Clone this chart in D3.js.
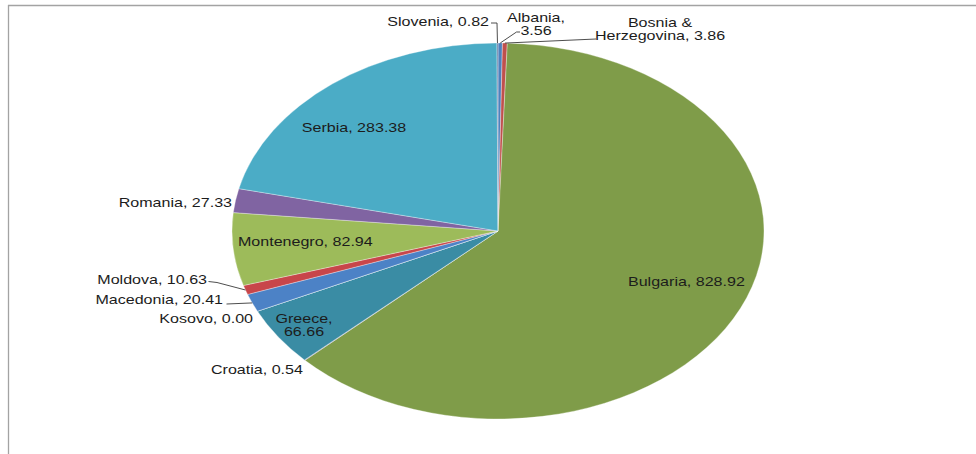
<!DOCTYPE html>
<html>
<head>
<meta charset="utf-8">
<script src="https://cdn.jsdelivr.net/npm/d3@7"></script>
<style>
  html, body { margin: 0; padding: 0; background: #fff; }
  svg { display: block; }
  text { font-family: "Liberation Sans", Arial, sans-serif; font-size: 12.5px; fill: #1c1c1c; }
</style>
</head>
<body>
<svg id="chart" width="976" height="454"></svg>
<script>
// ---- data ----
const countries = ["Albania", "Bosnia & Herzegovina", "Bulgaria", "Croatia", "Greece", "Kosovo",
                   "Macedonia", "Moldova", "Montenegro", "Romania", "Serbia", "Slovenia"];
const values = [3.56, 3.86, 828.92, 0.54, 66.66, 0.00, 20.41, 10.63, 82.94, 27.33, 283.38, 0.82];
const valueLabels = ["3.56", "3.86", "828.92", "0.54", "66.66", "0.00", "20.41", "10.63", "82.94", "27.33", "283.38", "0.82"];
const colors = ["#4F81BD", "#C0504D", "#7F9C49", "#8064A2", "#3A8CA4", "#F79646",
                "#4C82C6", "#C8464A", "#9DBB5A", "#8064A2", "#4BACC6", "#5A6E9A"];

// ---- label layout (positions only) ----
const labelLines = [
  ["Albania,", "3.56"],
  ["Bosnia &", "Herzegovina, 3.86"],
  ["Bulgaria, 828.92"],
  ["Croatia, 0.54"],
  ["Greece,", "66.66"],
  ["Kosovo, 0.00"],
  ["Macedonia, 20.41"],
  ["Moldova, 10.63"],
  ["Montenegro, 82.94"],
  ["Romania, 27.33"],
  ["Serbia, 283.38"],
  ["Slovenia, 0.82"]
];
const labelPos = [
  {x: 536, y: 21.5, anchor: "middle", leader: [[520, 32], [516.5, 32]]},
  {x: 660, y: 27, anchor: "middle", leader: [[596, 39]]},
  {x: 628, y: 286, anchor: "start"},
  {x: 211, y: 374, anchor: "start"},
  {x: 304, y: 323, anchor: "middle"},
  {x: 253, y: 323, anchor: "end"},
  {x: 223, y: 304, anchor: "end", leader: [[226.5, 304]]},
  {x: 207, y: 284, anchor: "end", leader: [[208.5, 281.5], [217, 282.5]]},
  {x: 238, y: 246, anchor: "start"},
  {x: 232, y: 206.5, anchor: "end"},
  {x: 354, y: 131.5, anchor: "middle"},
  {x: 489, y: 25.5, anchor: "end", leader: [[491, 23], [497, 23]]}
];

// ---- geometry ----
const W = 976, H = 454;
const cx = 498, cy = 231, rx = 266, ry = 188;
const textStretch = 1.285;
const lineGap = 13;

const svg = d3.select("#chart");

// frame
svg.append("line").attr("x1", 8).attr("y1", 5.5).attr("x2", W).attr("y2", 5.5)
  .attr("stroke", "#a3a3a3").attr("stroke-width", 1.3);
svg.append("line").attr("x1", 8.5).attr("y1", 5).attr("x2", 8.5).attr("y2", H)
  .attr("stroke", "#a3a3a3").attr("stroke-width", 1.3);

const data = countries.map((c, i) => ({name: c, value: values[i], color: colors[i], i}));

const pie = d3.pie().sort(null).value(d => d.value).startAngle(0).endAngle(2 * Math.PI);
const arcs = pie(data);

const arc = d3.arc().innerRadius(0).outerRadius(ry);

const g = svg.append("g").attr("transform", `translate(${cx},${cy}) scale(${rx / ry},1)`);
g.selectAll("path").data(arcs).enter().append("path")
  .attr("d", arc)
  .attr("fill", d => d.data.color)
  .attr("stroke", "#ffffff")
  .attr("stroke-opacity", 0.55)
  .attr("stroke-width", 0.6)
  .attr("vector-effect", "non-scaling-stroke");

// edge point on the ellipse at slice mid-angle
function edgePoint(a) {
  const m = (a.startAngle + a.endAngle) / 2;
  return [cx + rx * Math.sin(m), cy - ry * Math.cos(m)];
}

// leader lines
const lineGen = d3.line();
arcs.forEach((a, i) => {
  const lp = labelPos[i];
  if (!lp.leader) return;
  const pts = lp.leader.concat([edgePoint(a)]);
  svg.append("path").attr("d", lineGen(pts))
    .attr("fill", "none").attr("stroke", "#3a3a3a").attr("stroke-width", 0.9);
});

// labels
arcs.forEach((a, i) => {
  const lp = labelPos[i];
  labelLines[i].forEach((ln, k) => {
    svg.append("text")
      .attr("transform", `translate(${lp.x},${lp.y + k * lineGap}) scale(${textStretch},1)`)
      .attr("text-anchor", lp.anchor)
      .text(ln);
  });
});
</script>
</body>
</html>
